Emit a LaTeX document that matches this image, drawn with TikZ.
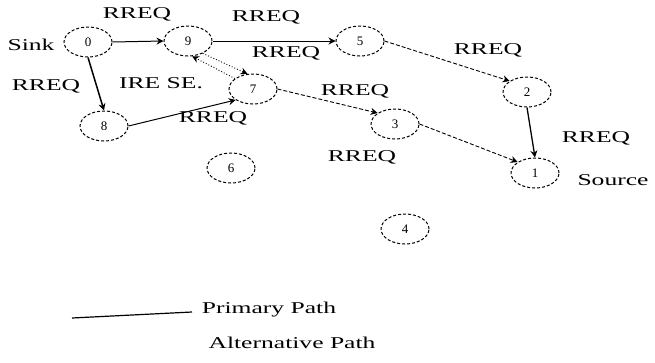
\documentclass[tikz,border=0pt]{standalone}
\usepackage{fontspec}
\setmainfont{Liberation Serif}
\usetikzlibrary{shapes.geometric,arrows.meta}
\begin{document}
\begin{tikzpicture}[x=1pt,y=-1pt,
  nd/.style={ellipse,draw,dashed,dash pattern=on 3pt off 2pt,line width=1pt,
    minimum width=48pt,minimum height=30pt,inner sep=0pt,font=\fontsize{13}{13}\selectfont},
  lbl/.style={font=\fontsize{16.5}{16.5}\selectfont,xscale=1.55,transform shape,inner sep=0pt},
  prim/.style={line width=1pt,-{Stealth[length=7pt,width=7pt]}},
  alt/.style={line width=0.9pt,dash pattern=on 4pt off 2pt,-{Stealth[length=7pt,width=7pt]}},
  dot/.style={line width=0.9pt,dotted,-{Stealth[length=7pt,width=7pt]}}]
\useasboundingbox (0,0) rectangle (655,362);
% nodes
\node[nd] (n0) at (88,42) {0};
\node[nd] (n9) at (188,41) {9};
\node[nd] (n5) at (360,41) {5};
\node[nd] (n7) at (253,89) {7};
\node[nd] (n8) at (104,126) {8};
\node[nd] (n2) at (527,92) {2};
\node[nd] (n3) at (395,124) {3};
\node[nd] (n1) at (535,173) {1};
\node[nd] (n6) at (231,168) {6};
\node[nd] (n4) at (405,229) {4};
% edges
\draw[prim] (n0.east) -- (n9.west);
\draw[prim] (n9.east) -- (n5.west);
\draw[alt] (n5.east) -- (n2.north west);
\draw[prim,line width=1.3pt] (n2.south) -- (n1.north);
\draw[prim,line width=1.5pt] (n0.south) -- (n8.north);
\draw[prim] (n8.east) -- (n7.south west);
\draw[alt] (n7.east) -- (n3.north west);
\draw[alt] (n3.east) -- (n1.north west);
\draw[dot] (n9.-40) -- (n7.110);
\draw[dot] (n7.150) -- (n9.-75);
% labels
\node[lbl] (sink) at (31,45) {Sink};
\node[lbl] (l1) at (137,14) {RREQ};
\node[lbl] (l2) at (266,17) {RREQ};
\node[lbl] (l3) at (286,53) {RREQ};
\node[lbl] (l4) at (46,86) {RREQ};
\node[lbl] (l5) at (161,83) {IRE SE.};
\node[lbl] (l6) at (213,118) {RREQ};
\node[lbl] (l7) at (488,50) {RREQ};
\node[lbl] (l8) at (355,91) {RREQ};
\node[lbl] (l9) at (362,157) {RREQ};
\node[lbl] (l10) at (596,138) {RREQ};
\node[lbl] (src) at (613,180) {Source};
% legend
\coordinate (la) at (72,318);
\coordinate (lb) at (192,312);
\draw[line width=1.2pt] (la) -- (lb);
\node[lbl] (pp) at (269,310) {Primary Path};
\node[lbl] (ap) at (292,343) {Alternative Path};
\end{tikzpicture}
\end{document}
